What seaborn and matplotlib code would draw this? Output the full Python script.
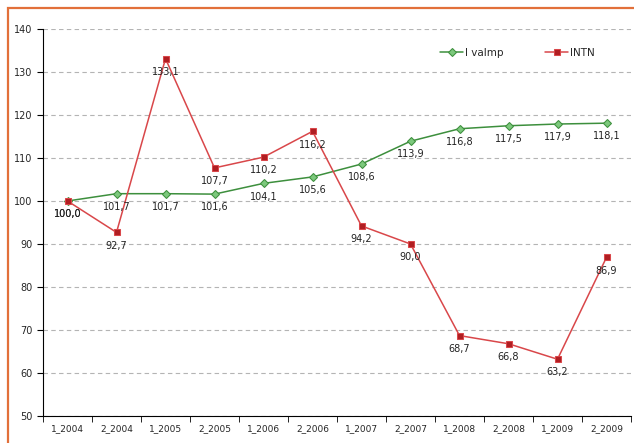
import matplotlib
matplotlib.use("Agg")
import matplotlib.pyplot as plt
import matplotlib.patches as mpatches
import numpy as np
import pandas as pd
import seaborn as sns

periods = ["1_2004", "2_2004", "1_2005", "2_2005", "1_2006", "2_2006",
           "1_2007", "2_2007", "1_2008", "2_2008", "1_2009", "2_2009"]
ivalmp = [100.0, 101.7, 101.7, 101.6, 104.1, 105.6, 108.6, 113.9, 116.8, 117.5, 117.9, 118.1]
intn = [100.0, 92.7, 133.1, 107.7, 110.2, 116.2, 94.2, 90.0, 68.7, 66.8, 63.2, 86.9]
series_names = ["I valmp", "INTN"]

df = pd.DataFrame({
    "period": periods * 2,
    "value": ivalmp + intn,
    "series": [series_names[0]] * len(periods) + [series_names[1]] * len(periods),
})

sns.set_style("white")
plt.rcParams["font.family"] = ["DejaVu Sans"]

fig = plt.figure(figsize=(6.34, 4.43), dpi=100)
# orange frame around the chart area
fig.patches.append(mpatches.Rectangle((8 / 634, -0.05), 1.1, 1 - 8 / 443 + 0.05,
                                      transform=fig.transFigure, fill=False,
                                      edgecolor="#e2703a", linewidth=1.6))
ax = fig.add_axes([43 / 634, 1 - 416 / 443, (631 - 43) / 634, (416 - 29) / 443])

green, red = "#3d8f3d", "#d9474a"
palette = {"I valmp": green, "INTN": red}
markers = {"I valmp": "D", "INTN": "s"}
sns.lineplot(data=df, x="period", y="value", hue="series", style="series",
             palette=palette, markers=markers, dashes=False, linewidth=1.1,
             markersize=4.5, ax=ax, sort=False)

# marker faces like the original
for line in ax.get_lines():
    c = matplotlib.colors.to_hex(line.get_color())
    if c == green:
        line.set_markerfacecolor("#7cc87c")
        line.set_markeredgecolor(green)
        line.set_markersize(4)
    elif c == red:
        line.set_markerfacecolor("#b01e22")
        line.set_markeredgecolor(red)

for vals in (ivalmp, intn):
    for i, v in enumerate(vals):
        ax.annotate(f"{v:.1f}".replace(".", ","), (i, v), xytext=(0, -9.5),
                    textcoords="offset points", ha="center", va="center",
                    fontsize=7, color="#222222")

ax.set_ylim(50, 140)
ax.set_yticks(np.arange(50, 141, 10))
ax.set_xlim(-0.5, len(periods) - 0.5)
ax.set_xticks(range(len(periods)))
ax.set_xticklabels(periods)
ax.set_xticks(np.arange(-0.5, len(periods), 1), minor=True)
ax.tick_params(axis="x", which="major", length=0, labelsize=6.5, pad=6)
ax.tick_params(axis="x", which="minor", length=4, direction="out", bottom=True, color="black")
ax.tick_params(axis="y", length=4, direction="out", left=True, labelsize=7, color="black")
ax.set_xlabel("")
ax.set_ylabel("")
ax.yaxis.grid(True, linestyle=(0, (4, 3)), color="#b4b4b4", linewidth=0.8)
ax.spines["top"].set_visible(False)
ax.spines["right"].set_visible(False)
ax.spines["left"].set_color("black")
ax.spines["bottom"].set_color("black")

leg = ax.legend(loc="upper right", bbox_to_anchor=(0.955, 0.975), ncol=2, frameon=False,
                fontsize=7.5, handlelength=2.2, handletextpad=0.2, columnspacing=4)
for h in leg.legend_handles:
    c = matplotlib.colors.to_hex(h.get_color())
    if c == green:
        h.set_markerfacecolor("#7cc87c")
        h.set_markersize(4)
    else:
        h.set_markerfacecolor("#b01e22")

fig.savefig("out.png", dpi=100)
